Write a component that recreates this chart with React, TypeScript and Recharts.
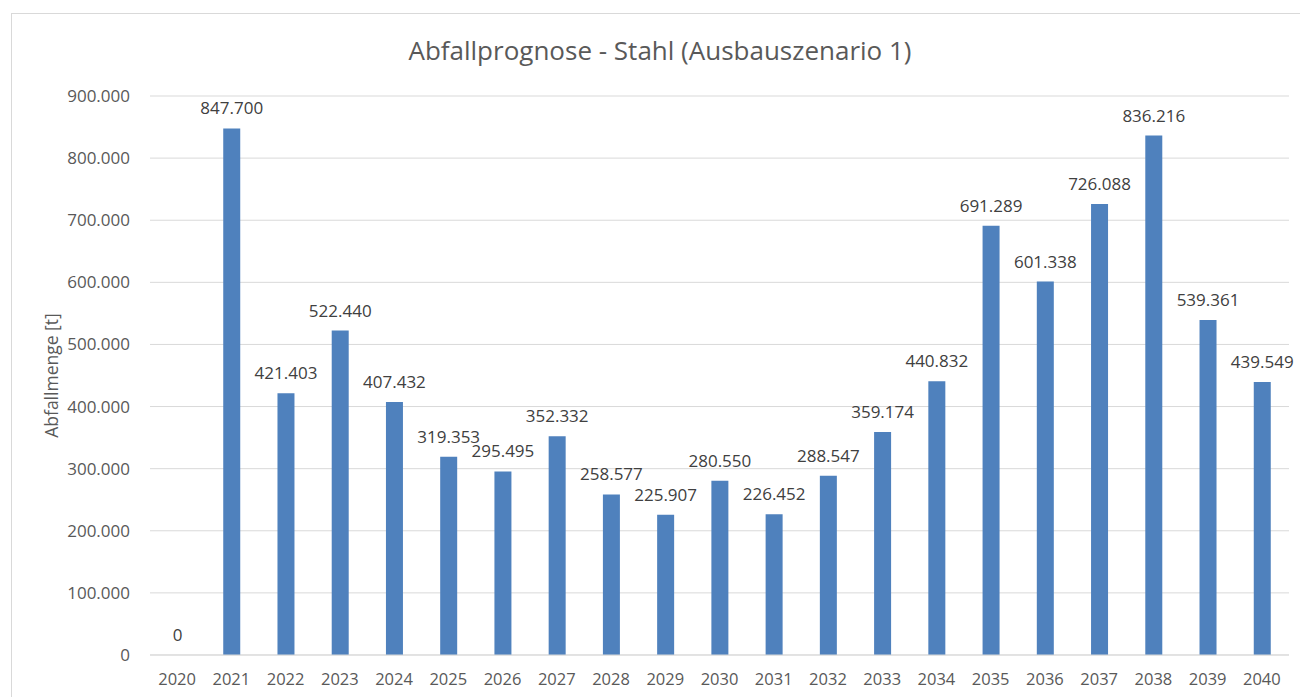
import React from 'react';
import { BarChart, Bar, XAxis, YAxis, CartesianGrid, LabelList } from 'recharts';

const years = ['2020','2021','2022','2023','2024','2025','2026','2027','2028','2029','2030','2031','2032','2033','2034','2035','2036','2037','2038','2039','2040'];
const amounts = [0, 847700, 421403, 522440, 407432, 319353, 295495, 352332, 258577, 225907, 280550, 226452, 288547, 359174, 440832, 691289, 601338, 726088, 836216, 539361, 439549];
const yTicks = [0, 100000, 200000, 300000, 400000, 500000, 600000, 700000, 800000, 900000];

const data = years.map((y, i) => ({ year: y, value: amounts[i] }));

const fmt = (v: number) => {
  const s = String(Math.round(v));
  return s.replace(/\B(?=(\d{3})+(?!\d))/g, '.');
};

const FONT = '"Open Sans", "Liberation Sans", sans-serif';

export default function App() {
  return (
    <div style={{ position: 'absolute', left: 0, top: 0, width: 1300, height: 697, background: '#fff', overflow: 'hidden', fontFamily: FONT }}>
      <div style={{ position: 'absolute', left: 11, top: 13, width: 1400, height: 800, borderLeft: '1px solid #d9d9d9', borderTop: '1px solid #d9d9d9' }} />
      <div style={{ position: 'absolute', left: 0, width: 1320, top: 32, textAlign: 'center', fontSize: 26, color: '#595959', lineHeight: '36px' }}>
        Abfallprognose - Stahl (Ausbauszenario 1)
      </div>
      <div style={{ position: 'absolute', left: 0, top: 0 }}>
        <BarChart width={1300} height={697} data={data} margin={{ top: 96, right: 11, bottom: 12, left: 0 }}>
          <CartesianGrid vertical={false} stroke="#d9d9d9" />
          <XAxis
            dataKey="year"
            height={30}
            tickLine={false}
            axisLine={{ stroke: '#d9d9d9' }}
            tickMargin={12}
            tick={{ fill: '#595959', fontSize: 16.5, fontFamily: FONT }}
            interval={0}
          />
          <YAxis
            width={150}
            domain={[0, 900000]}
            ticks={yTicks}
            tickFormatter={fmt}
            axisLine={false}
            tickLine={false}
            tickMargin={14}
            tick={{ fill: '#595959', fontSize: 17, fontFamily: FONT }}
            label={{ value: 'Abfallmenge [t]', angle: -90, position: 'insideLeft', offset: 52, style: { textAnchor: 'middle', fill: '#595959', fontSize: 17.5, fontFamily: FONT } }}
          />
          <Bar dataKey="value" fill="#4f81bd" barSize={17} minPointSize={0.01} isAnimationActive={false}>
            <LabelList dataKey="value" position="top" offset={14} formatter={(v: any) => fmt(Number(v))} style={{ fill: '#404040', fontSize: 17, fontFamily: FONT }} />
          </Bar>
        </BarChart>
      </div>
    </div>
  );
}
